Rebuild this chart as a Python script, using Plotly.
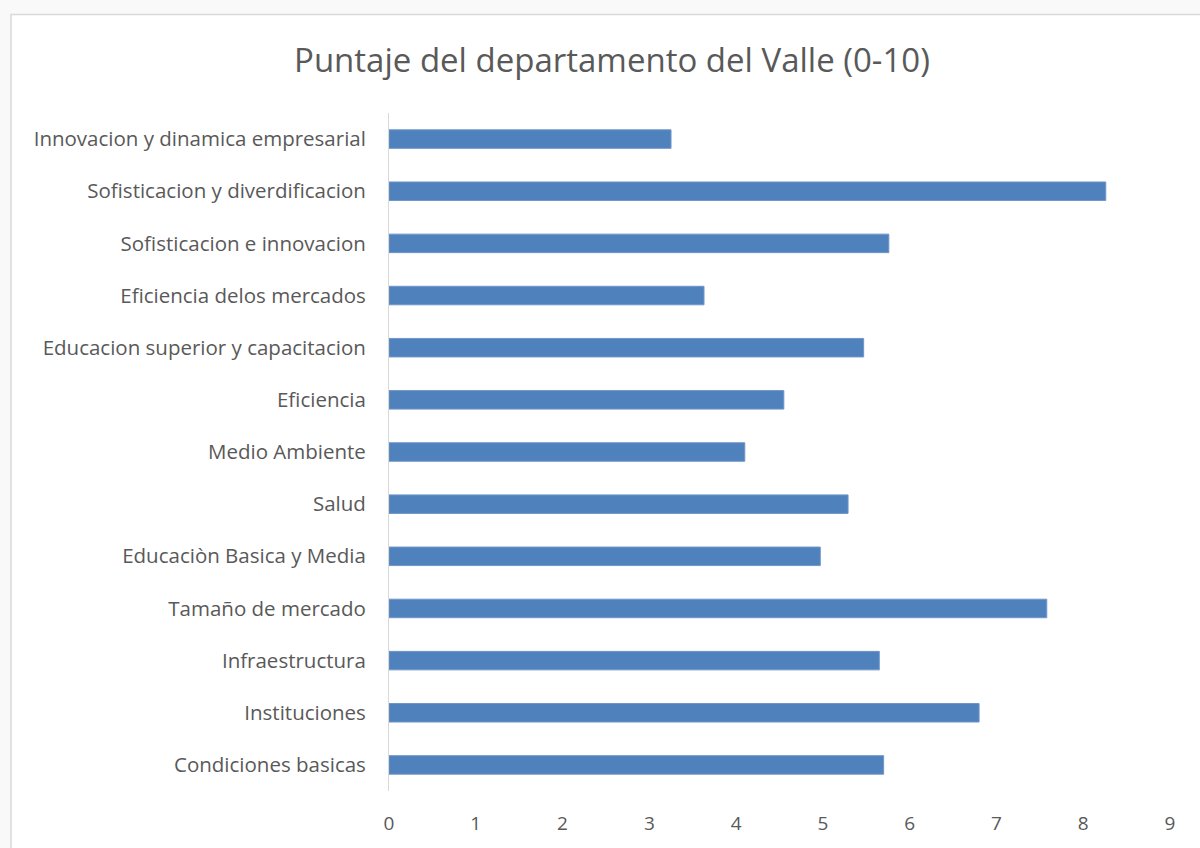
import plotly.graph_objects as go

# Categories listed top to bottom as they appear on the chart
categorias = [
    "Innovacion y dinamica empresarial",
    "Sofisticacion y diverdificacion",
    "Sofisticacion e innovacion",
    "Eficiencia delos mercados",
    "Educacion superior y capacitacion",
    "Eficiencia",
    "Medio Ambiente",
    "Salud",
    "Educaciòn Basica y Media",
    "Tamaño de mercado",
    "Infraestructura",
    "Instituciones",
    "Condiciones basicas",
]
puntajes = [3.25, 8.26, 5.76, 3.63, 5.47, 4.55, 4.10, 5.29, 4.97, 7.58, 5.65, 6.80, 5.70]
ticks_x = [0, 1, 2, 3, 4, 5, 6, 7, 8, 9]

W, H = 1200, 848
L, R, T, B = 389, 30, 113, 54
pw = W - L - R
ph = H - T - B

fig = go.Figure(
    go.Bar(
        x=puntajes,
        y=categorias,
        orientation="h",
        marker=dict(color="#4f81bd", line=dict(color="#6f96c8", width=1)),
        hoverinfo="x+y",
    )
)

text_color = "#595959"
font_family = "Open Sans, Carlito, Liberation Sans, sans-serif"

# chart frame: white card with a light gray border
fig.add_shape(
    type="rect", xref="paper", yref="paper", layer="below",
    x0=(11 - L) / pw, x1=(W + 20 - L) / pw,
    y0=-(B + 20) / ph, y1=(H - B - 14) / ph,
    fillcolor="white", line=dict(color="#d9d9d9", width=1.5),
)

fig.update_layout(
    width=W,
    height=H,
    margin=dict(l=L, r=R, t=T, b=B),
    paper_bgcolor="#f9f9f9",
    plot_bgcolor="rgba(0,0,0,0)",
    bargap=0.645,
    showlegend=False,
    font=dict(family=font_family, color=text_color),
    title=dict(
        text="Puntaje del departamento del Valle (0-10)",
        font=dict(size=33, color=text_color, family=font_family),
        xref="paper", x=(612 - L) / pw, xanchor="center",
        yref="container", y=1 - 60 / H, yanchor="middle",
    ),
    xaxis=dict(
        range=[0, 9],
        tickvals=ticks_x,
        ticktext=[str(t) for t in ticks_x],
        showgrid=False,
        zeroline=False,
        showline=False,
        ticks="",
        ticklabelstandoff=19,
        tickfont=dict(size=19, color=text_color),
        fixedrange=True,
    ),
    yaxis=dict(
        autorange="reversed",
        showgrid=False,
        zeroline=False,
        showline=True,
        linecolor="#d9d9d9",
        linewidth=1,
        ticks="",
        ticklabelstandoff=18,
        tickfont=dict(size=20.5, color=text_color),
        fixedrange=True,
    ),
)

fig.write_html("out.html")
